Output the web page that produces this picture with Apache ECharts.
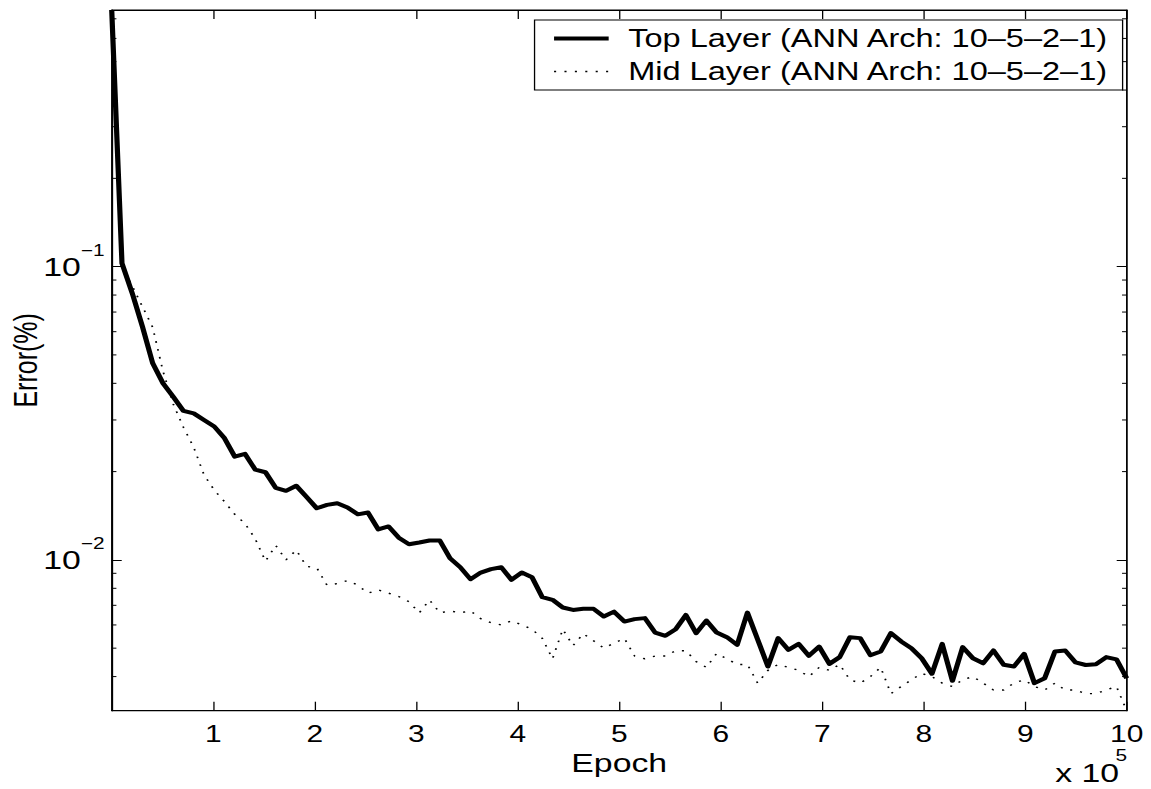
<!DOCTYPE html>
<html>
<head>
<meta charset="utf-8">
<script src="https://cdn.jsdelivr.net/npm/echarts@6/dist/echarts.min.js"></script>
<style>
html,body{margin:0;padding:0;background:#fff;overflow:hidden;width:1151px;height:789px;}
#chart{width:885px;height:789px;transform:scaleX(1.3006);transform-origin:0 0;}
</style>
</head>
<body>
<div id="chart"></div>
<script>
// Epoch (x 10^5)
const epochs = [0, 0.101, 0.202, 0.303, 0.404, 0.505, 0.606, 0.707, 0.808, 0.909,
  1.010, 1.111, 1.212, 1.313, 1.414, 1.515, 1.616, 1.717, 1.818, 1.919,
  2.020, 2.121, 2.222, 2.323, 2.424, 2.525, 2.626, 2.727, 2.828, 2.929,
  3.030, 3.131, 3.232, 3.333, 3.434, 3.535, 3.636, 3.737, 3.838, 3.939,
  4.040, 4.141, 4.242, 4.343, 4.444, 4.545, 4.646, 4.747, 4.848, 4.949,
  5.051, 5.152, 5.253, 5.354, 5.455, 5.556, 5.657, 5.758, 5.859, 5.960,
  6.061, 6.162, 6.263, 6.364, 6.465, 6.566, 6.667, 6.768, 6.869, 6.970,
  7.071, 7.172, 7.273, 7.374, 7.475, 7.576, 7.677, 7.778, 7.879, 7.980,
  8.081, 8.182, 8.283, 8.384, 8.485, 8.586, 8.687, 8.788, 8.889, 8.990,
  9.091, 9.192, 9.293, 9.394, 9.495, 9.596, 9.697, 9.798, 9.899, 10.000];

const topLayer = [0.75, 0.1027, 0.0812, 0.0624, 0.0468, 0.0400, 0.0360, 0.0322, 0.0316, 0.0300,
  0.0285, 0.0260, 0.0225, 0.0230, 0.0203, 0.0199, 0.0176, 0.0172, 0.0179, 0.0164,
  0.0150, 0.0154, 0.0156, 0.0151, 0.0143, 0.0145, 0.0127, 0.0130, 0.0119, 0.0113,
  0.01146, 0.01164, 0.01164, 0.01013, 0.00944, 0.00859, 0.00905, 0.00930, 0.00944, 0.00855,
  0.00905, 0.00873, 0.00746, 0.00731, 0.00688, 0.00675, 0.00681, 0.00681, 0.00641, 0.00666,
  0.00616, 0.00628, 0.00633, 0.00565, 0.00551, 0.00580, 0.00649, 0.00562, 0.00621, 0.00565,
  0.00545, 0.00513, 0.00661, 0.00535, 0.00433, 0.00541, 0.00493, 0.00517, 0.00471, 0.00506,
  0.00442, 0.00466, 0.00545, 0.00541, 0.00473, 0.00487, 0.00563, 0.00527, 0.00500, 0.00462,
  0.00409, 0.00517, 0.00387, 0.00504, 0.00462, 0.00444, 0.00491, 0.00439, 0.00433, 0.00478,
  0.00380, 0.00395, 0.00487, 0.00491, 0.00447, 0.00438, 0.00441, 0.00466, 0.00458, 0.00395];

const midLayer = [0.75, 0.100, 0.086, 0.073, 0.062, 0.044, 0.034, 0.0283, 0.0242, 0.0195,
  0.0173, 0.0158, 0.0143, 0.0133, 0.0118, 0.0099, 0.0112, 0.0100, 0.0108, 0.0095,
  0.0094, 0.0082, 0.0083, 0.0085, 0.0082, 0.0077, 0.0079, 0.0077, 0.0075, 0.0072,
  0.0066, 0.0073, 0.0066, 0.0067, 0.0066, 0.0067, 0.0063, 0.0061, 0.0060, 0.0062,
  0.0060, 0.0058, 0.0054, 0.0046, 0.0058, 0.0051, 0.0056, 0.0053, 0.0050, 0.0052,
  0.0054, 0.0047, 0.0046, 0.0047, 0.0047, 0.0049, 0.0049, 0.0045, 0.0043, 0.0048,
  0.0046, 0.0044, 0.0044, 0.0038, 0.0042, 0.0044, 0.0043, 0.0042, 0.0040, 0.0043,
  0.0042, 0.0044, 0.0039, 0.0038, 0.0040, 0.0043, 0.0035, 0.0037, 0.0039, 0.0041,
  0.0040, 0.0038, 0.0037, 0.0039, 0.0040, 0.0038, 0.0036, 0.0036, 0.0038, 0.0039,
  0.0037, 0.0036, 0.0038, 0.0036, 0.0036, 0.0035, 0.0035, 0.0036, 0.0037, 0.00306];

const seriesNames = ['Top Layer (ANN Arch: 10\u20135\u20132\u20131)', 'Mid Layer (ANN Arch: 10\u20135\u20132\u20131)'];
const yMinorTicks = [0.004, 0.005, 0.006, 0.007, 0.008, 0.009,
  0.02, 0.03, 0.04, 0.05, 0.06, 0.07, 0.08, 0.09,
  0.2, 0.3, 0.4, 0.5, 0.6, 0.7];
const xMin = 0, xMax = 10, yMin = 0.00306, yMax = 0.75;

const F = '"Liberation Sans", Arial, Helvetica, sans-serif';
const chart = echarts.init(document.getElementById('chart'), null, {renderer: 'svg', width: 885, height: 789});

const axisLine = {show: true, onZero: false, lineStyle: {color: '#000', width: 1}};
const xTick = {show: true, inside: true, length: 9, lineStyle: {color: '#000', width: 1}};
const yTick = {show: true, inside: true, length: 7.7, lineStyle: {color: '#000', width: 1}};
const expLabel = function (v) {
  const e = Math.round(Math.log10(v));
  return '{b|10}{s|' + (e < 0 ? '\u2212' + (-e) : String(e)) + '}';
};

chart.setOption({
  animation: false,
  backgroundColor: '#fff',
  grid: {left: 85.9, right: 18.7, top: 10, bottom: 78.3, containLabel: false, outerBoundsMode: 'none',
    show: true, borderColor: '#000', borderWidth: 1, backgroundColor: 'rgba(0,0,0,0)'},
  xAxis: [{
    type: 'value', min: xMin, max: xMax, interval: 1, position: 'bottom',
    axisLine: axisLine, axisTick: xTick,
    axisLabel: {fontSize: 23, lineHeight: 20, color: '#000', fontFamily: F, margin: 13.5, showMinLabel: false},
    splitLine: {show: false},
    name: 'Epoch', nameLocation: 'middle', nameGap: 39, nameMoveOverlap: false,
    nameTextStyle: {fontSize: 26, color: '#000', fontFamily: F}
  }, {
    type: 'value', min: xMin, max: xMax, interval: 1, position: 'top',
    axisLine: axisLine, axisTick: xTick,
    axisLabel: {show: false}, splitLine: {show: false}
  }],
  yAxis: [{
    type: 'log', logBase: 10, min: yMin, max: yMax, position: 'left',
    axisLine: axisLine, axisTick: yTick,
    axisLabel: {
      margin: 5.5, showMinLabel: false, showMaxLabel: false, formatter: expLabel,
      rich: {
        b: {fontSize: 26, lineHeight: 48, fontFamily: F, color: '#000'},
        s: {fontSize: 16, lineHeight: 16, verticalAlign: 'top', fontFamily: F, color: '#000'}
      }
    },
    splitLine: {show: false},
    name: 'Error(%)', nameLocation: 'middle', nameGap: 53.5, nameRotate: 90, nameMoveOverlap: false,
    nameTextStyle: {fontSize: 25, color: '#000', fontFamily: F}
  }, {
    type: 'log', logBase: 10, min: yMin, max: yMax, position: 'right',
    axisLine: axisLine, axisTick: yTick,
    axisLabel: {show: false}, splitLine: {show: false}
  }],
  legend: {
    data: [
      {name: seriesNames[0], itemStyle: {opacity: 0}, lineStyle: {width: 4, type: 'solid'}},
      {name: seriesNames[1], itemStyle: {opacity: 0}, lineStyle: {width: 1.4, type: [1.6, 6.4]}}
    ],
    orient: 'vertical', left: 411, top: 20,
    itemWidth: 42, itemHeight: 14, itemGap: 0, padding: [2, 10.5, 2, 13],
    borderColor: '#000', borderWidth: 1, backgroundColor: '#fff',
    selectedMode: false,
    itemStyle: {opacity: 0},
    textStyle: {fontSize: 25, color: '#000', fontFamily: F, lineHeight: 33, padding: [0, 0, 0, 10]}
  },
  graphic: [{
    type: 'text', x: 860.5, y: 773, z: 10,
    style: {text: 'x 10', align: 'right', verticalAlign: 'middle', fontSize: 26, fontFamily: F, fill: '#000'}
  }, {
    type: 'text', x: 866.5, y: 755, z: 10,
    style: {text: '5', align: 'right', verticalAlign: 'middle', fontSize: 16, fontFamily: F, fill: '#000'}
  }],
  series: [{
    name: seriesNames[1], type: 'line', xAxisIndex: 0, yAxisIndex: 0,
    data: epochs.map(function (x, i) { return [x, midLayer[i]]; }),
    symbol: 'none', showSymbol: false, z: 2,
    itemStyle: {color: '#000'},
    lineStyle: {color: '#000', width: 1.4, type: [1.6, 6.4]}
  }, {
    name: seriesNames[0], type: 'line', xAxisIndex: 0, yAxisIndex: 0,
    data: epochs.map(function (x, i) { return [x, topLayer[i]]; }),
    symbol: 'none', showSymbol: false, z: 3,
    itemStyle: {color: '#000'},
    lineStyle: {color: '#000', width: 4, join: 'round'}
  }, {
    name: 'minorTicks', type: 'custom', xAxisIndex: 0, yAxisIndex: 0,
    silent: true, z: 4,
    data: yMinorTicks.map(function (v) { return [xMin, v]; }),
    encode: {x: 0, y: 1},
    renderItem: function (params, api) {
      const v = api.value(1);
      const pL = api.coord([xMin, v]);
      const pR = api.coord([xMax, v]);
      return {
        type: 'group',
        children: [
          {type: 'line', shape: {x1: pL[0], y1: pL[1], x2: pL[0] + 3.6, y2: pL[1]}, style: {stroke: '#000', lineWidth: 1}},
          {type: 'line', shape: {x1: pR[0], y1: pR[1], x2: pR[0] - 3.6, y2: pR[1]}, style: {stroke: '#000', lineWidth: 1}}
        ]
      };
    }
  }]
});
</script>
</body>
</html>
